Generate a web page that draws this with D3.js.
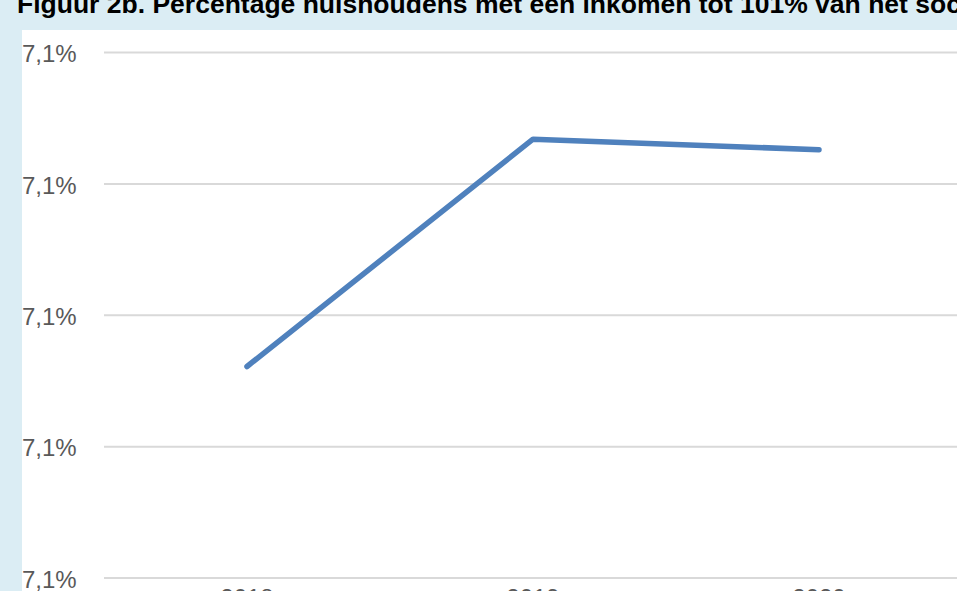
<!DOCTYPE html>
<html>
<head>
<meta charset="utf-8">
<script src="https://cdn.jsdelivr.net/npm/d3@7"></script>
<style>
  html, body { margin: 0; padding: 0; width: 957px; height: 591px; background: #dbedf4; overflow: hidden; }
  #chart { position: absolute; left: 0; top: 0; }
  svg { display: block; font-family: "Liberation Sans", Arial, sans-serif; }
</style>
</head>
<body>
<div id="chart"></div>
<script>
// data (percent)
const years = ["2018", "2019", "2020"];
const values = [7.0961, 7.1134, 7.1126];
const yTicks = [7.08, 7.09, 7.10, 7.11, 7.12];
const title = "Figuur 2b. Percentage huishoudens met een inkomen tot 101% van het sociaal minimum";

window.onload = function() {
    const width = 957;
    const height = 591;

    const svg = d3.select("#chart")
        .append("svg")
        .attr("width", width)
        .attr("height", height);

    // blue frame with white plot panel
    svg.append("rect")
        .attr("width", width).attr("height", height)
        .attr("fill", "#dbedf4");
    svg.append("rect")
        .attr("x", 22).attr("y", 30)
        .attr("width", width - 22).attr("height", height - 30)
        .attr("fill", "#ffffff");

    // title, clipped at top of the picture
    svg.append("text")
        .attr("x", 17)
        .attr("y", 13)
        .attr("font-size", 26.5)
        .attr("font-weight", "bold")
        .attr("fill", "#000")
        .text(title);

    // scales
    const x = d3.scaleBand()
        .domain(years)
        .range([104, 962]);

    const y = d3.scaleLinear()
        .domain([7.08, 7.12])
        .range([578, 52.5]);

    // gridlines
    svg.append("g")
        .selectAll("line")
        .data(yTicks)
        .join("line")
        .attr("x1", 104)
        .attr("x2", width)
        .attr("y1", d => y(d))
        .attr("y2", d => y(d))
        .attr("stroke", "#d9d9d9")
        .attr("stroke-width", 2);

    // y labels
    const yAxis = d3.axisLeft(y)
        .tickValues(yTicks)
        .tickSize(0)
        .tickFormat(d => d.toFixed(1).replace(".", ",") + "%");

    const gy = svg.append("g")
        .attr("transform", "translate(104,0)")
        .call(yAxis);
    gy.select(".domain").remove();
    gy.selectAll(".tick text")
        .attr("fill", "#595959")
        .attr("font-size", 24)
        .attr("font-family", "Liberation Sans, Arial, sans-serif")
        .attr("text-anchor", "start")
        .attr("x", -82)
        .attr("dy", "0.38em");

    // x labels (mostly cut off by the bottom edge)
    const xAxis = d3.axisBottom(x).tickSize(0).tickPadding(11);
    const gx = svg.append("g")
        .attr("transform", "translate(0,578)")
        .call(xAxis);
    gx.select(".domain").remove();
    gx.selectAll(".tick text")
        .attr("fill", "#595959")
        .attr("font-size", 24)
        .attr("font-family", "Liberation Sans, Arial, sans-serif");

    // the line
    const line = d3.line()
        .x((d, i) => x(years[i]) + x.bandwidth() / 2)
        .y(d => y(d));

    svg.append("path")
        .datum(values)
        .attr("d", line)
        .attr("fill", "none")
        .attr("stroke", "#4f81bd")
        .attr("stroke-width", 5.5)
        .attr("stroke-linecap", "round")
        .attr("stroke-linejoin", "round");
};
</script>
</body>
</html>
